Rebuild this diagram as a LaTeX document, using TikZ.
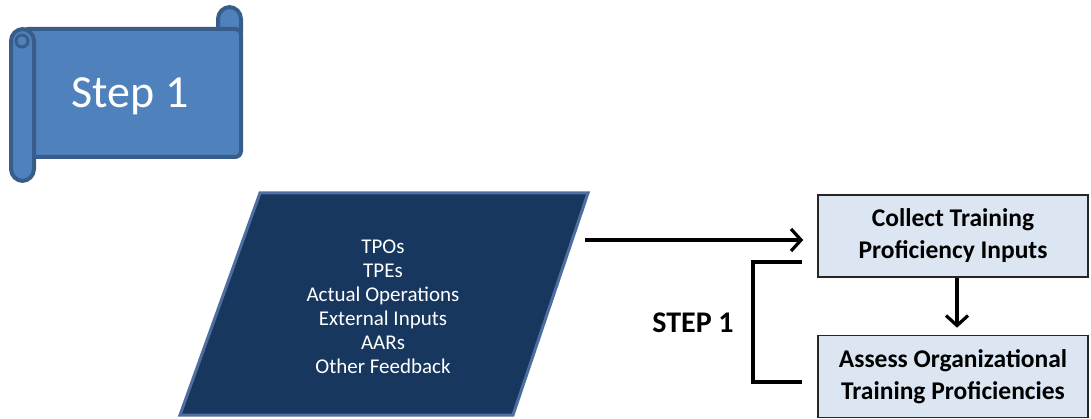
\documentclass[tikz,border=0pt]{standalone}
\usepackage{fontspec}
\setmainfont{Carlito}
\usetikzlibrary{arrows.meta}
\definecolor{scrollfill}{RGB}{79,129,189}
\definecolor{scrollline}{RGB}{56,93,138}
\definecolor{navy}{RGB}{23,55,94}
\definecolor{navyline}{RGB}{79,110,160}
\definecolor{boxfill}{RGB}{220,230,242}
\tikzset{
  procbox/.style={draw=black!85, line width=1.6pt, fill=boxfill, minimum width=270pt, minimum height=82pt, align=center, font=\fontsize{25.5}{32}\selectfont\bfseries, inner sep=0pt},
  conn/.style={line width=3.2pt, -{Straight Barb[length=10pt,width=22pt]}},
  bracket/.style={line width=3.2pt},
  scrollpart/.style={fill=scrollfill, draw=scrollline, line width=4pt},
}
\begin{document}
\begin{tikzpicture}[x=1pt,y=-1pt]
\useasboundingbox (0,0) rectangle (1091,419);
% scroll
\draw[scrollpart, rounded corners=12pt] (218,7) rectangle (241,45);
\draw[scrollpart, rounded corners=6pt] (22,29) rectangle (241,157);
\draw[scrollpart, rounded corners=12pt] (11,29) rectangle (34,181);
\draw[scrollline, line width=3pt, fill=scrollfill] (22,41) circle (6pt);
\node[text=white, font=\fontsize{46}{52}\selectfont] (scroll) at (130,96) {Step 1};
% parallelogram input
\draw[fill=navy, draw=navyline, line width=3pt] (260,193) -- (588,193) -- (513,415) -- (180,415) -- cycle;
\node[text=white, align=center, font=\fontsize{21}{24}\selectfont] (inp) at (383,307) {TPOs\\TPEs\\Actual Operations\\External Inputs\\AARs\\Other Feedback};
\coordinate (a0) at (585,240);
% boxes
\node[procbox] (c1) at (953,236) {Collect Training\\Proficiency Inputs};
\node[procbox] (c2) at (953,376.5) {Assess Organizational\\Training Proficiencies};
\draw[conn, shorten >=14pt] (a0) -- (a0 -| c1.west);
\draw[conn, shorten >=7pt] (c1.south -| 957,0) coordinate (d0) -- (d0 |- c2.north);
% bracket
\coordinate (bt) at (802,262);
\coordinate (bb) at (802,382);
\draw[bracket] (bt) -- (753,262) -- (753,382) -- (bb);
\node[font=\fontsize{30}{34}\selectfont\bfseries] (s1) at (693,323) {STEP 1};
\end{tikzpicture}
\end{document}
